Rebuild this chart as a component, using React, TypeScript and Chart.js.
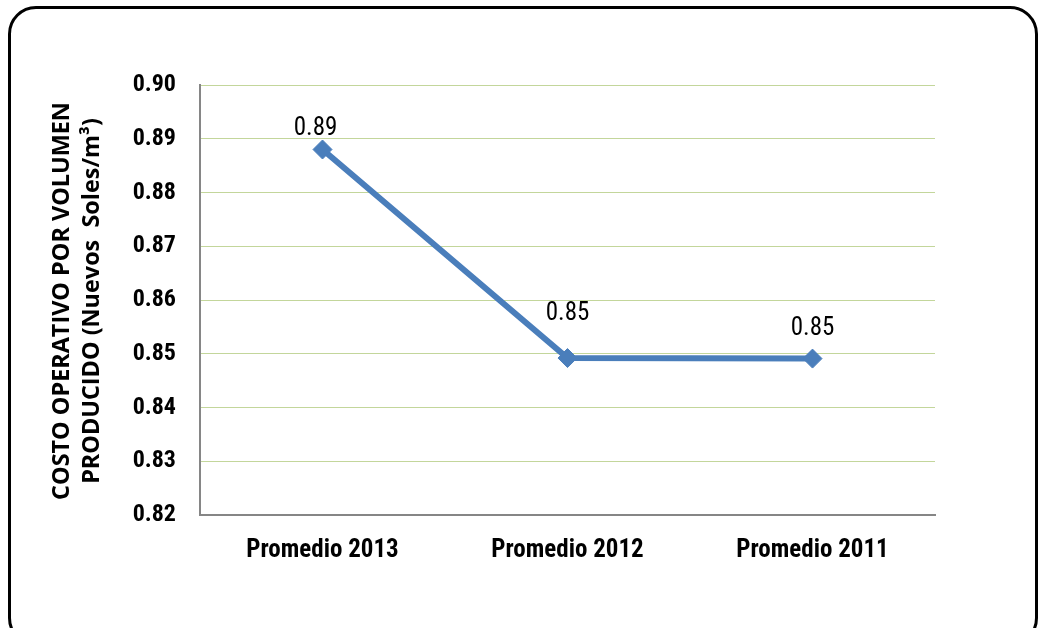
import React, { useEffect, useRef } from 'react';
import { Chart, registerables } from 'chart.js';

Chart.register(...registerables);

const categories = ['Promedio 2013', 'Promedio 2012', 'Promedio 2011'];
const costValues = [0.888, 0.8492, 0.8491];
const dataLabels = ['0.89', '0.85', '0.85'];
const yMin = 0.82;
const yMax = 0.9;
const yStep = 0.01;
const yTitleLines = ['COSTO OPERATIVO POR VOLUMEN', 'PRODUCIDO (Nuevos  Soles/m³)'];

const NARROW = "'Liberation Sans Narrow', 'Arial Narrow', 'Roboto Condensed', 'Liberation Sans', sans-serif";
const TITLE_FONT = "'Open Sans', 'Liberation Sans', sans-serif";

const labelOffsets = [
  { dx: -7, dy: -21 },
  { dx: 0, dy: -44 },
  { dx: 0, dy: -30 },
];

const overlayPlugin = {
  id: 'overlay',
  afterDatasetsDraw(chart: any) {
    const ctx = chart.ctx;
    const meta = chart.getDatasetMeta(0);
    ctx.save();
    ctx.fillStyle = '#000';
    ctx.font = `normal 25px ${NARROW}`;
    ctx.textAlign = 'center';
    ctx.textBaseline = 'middle';
    meta.data.forEach((pt: any, i: number) => {
      const o = labelOffsets[i] || { dx: 0, dy: -25 };
      ctx.fillText(dataLabels[i], pt.x + o.dx, pt.y + o.dy);
    });
    ctx.restore();

    ctx.save();
    ctx.fillStyle = '#000';
    ctx.font = `bold 20px ${TITLE_FONT}`;
    const w0 = ctx.measureText(yTitleLines[0]).width || 1;
    const size = Math.max(14, Math.min(26, (20 * 398) / w0));
    ctx.font = `bold ${size}px ${TITLE_FONT}`;
    ctx.textAlign = 'center';
    ctx.textBaseline = 'middle';
    const cy = 301;
    const xs = [62, 92];
    yTitleLines.forEach((line, i) => {
      ctx.save();
      ctx.translate(xs[i], cy);
      ctx.rotate(-Math.PI / 2);
      ctx.fillText(line, 0, 0);
      ctx.restore();
    });
    ctx.restore();
  },
};

export default function App() {
  const ref = useRef<HTMLCanvasElement | null>(null);

  useEffect(() => {
    document.body.style.margin = '0';
    if (!ref.current) return;
    const chart = new Chart(ref.current, {
      type: 'line',
      data: {
        labels: categories,
        datasets: [
          {
            data: costValues,
            borderColor: '#4A7EBB',
            backgroundColor: '#4A7EBB',
            borderWidth: 6,
            pointStyle: 'rectRot',
            pointRadius: 9.5,
            pointBorderWidth: 1,
            pointBorderColor: '#4A7EBB',
            pointBackgroundColor: '#4A7EBB',
            tension: 0,
            fill: false,
          },
        ],
      },
      options: {
        animation: false,
        responsive: false,
        devicePixelRatio: 1,
        layout: { padding: { top: 85, right: 109, bottom: 0, left: 0 } },
        plugins: {
          legend: { display: false },
          tooltip: { enabled: false },
          title: { display: false },
        },
        scales: {
          x: {
            offset: true,
            grid: { display: false, drawTicks: false },
            border: { display: true, color: '#868686', width: 2 },
            ticks: {
              color: '#000',
              padding: 21,
              font: { family: NARROW, size: 25, weight: 'bold' },
            },
            afterFit(scale: any) {
              scale.height = 113;
            },
          },
          y: {
            min: yMin,
            max: yMax,
            grid: { color: '#C3D69B', lineWidth: 1, drawTicks: false },
            border: { display: true, color: '#868686', width: 2 },
            ticks: {
              stepSize: yStep,
              color: '#000',
              padding: 24,
              font: { family: NARROW, size: 24, weight: 'bold' },
              callback: (v: any) => Number(v).toFixed(2),
            },
            afterFit(scale: any) {
              scale.width = 200;
            },
          },
        },
      },
      plugins: [overlayPlugin],
    });
    return () => chart.destroy();
  }, []);

  return (
    <div style={{ position: 'relative', width: 1044, height: 628, overflow: 'hidden', background: '#fff' }}>
      <canvas ref={ref} width={1044} height={628} style={{ position: 'absolute', left: 0, top: 0 }} />
      <div
        style={{
          position: 'absolute',
          left: 8,
          top: 6,
          width: 1030,
          height: 640,
          border: '3px solid #000',
          borderRadius: 28,
          boxSizing: 'border-box',
          pointerEvents: 'none',
        }}
      />
    </div>
  );
}
